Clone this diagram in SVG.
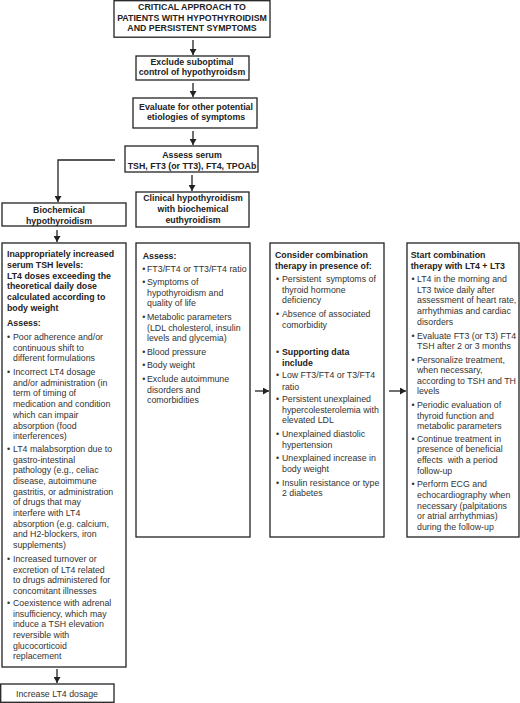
<svg xmlns="http://www.w3.org/2000/svg" width="520" height="703" viewBox="0 0 520 703">
<defs>
<marker id="ah" markerUnits="userSpaceOnUse" markerWidth="6" markerHeight="7" refX="6" refY="3.5" orient="auto">
<path d="M0,0 L6,3.5 L0,7 z" fill="#222"/>
</marker>
<style>
text{font-family:"Liberation Sans",Arial,Helvetica,sans-serif;font-size:8.8px;fill:#333}
.b{font-weight:bold;fill:#222}
.c{text-anchor:middle}
.box{fill:#fff;stroke:#222;stroke-width:1.3}
.ln{fill:none;stroke:#222;stroke-width:1.3}
.ar{marker-end:url(#ah)}
</style>
</defs>
<rect width="520" height="703" fill="#fff"/>

<g id="connectors">
<line class="ln ar" x1="193" y1="40" x2="193" y2="55"/>
<line class="ln ar" x1="193" y1="83" x2="193" y2="97"/>
<line class="ln ar" x1="193" y1="131" x2="193" y2="145"/>
<line class="ln ar" x1="192" y1="175" x2="192" y2="191"/>
<polyline class="ln ar" points="115,160 58,160 58,202"/>
<line class="ln ar" x1="57" y1="230" x2="57" y2="242"/>
<line class="ln ar" x1="57" y1="669" x2="57" y2="683"/>
<line class="ln ar" x1="255" y1="391" x2="269" y2="391"/>
<line class="ln ar" x1="389" y1="391" x2="406" y2="391"/>
</g>

<g id="n-critical">
<rect class="box" x="114" y="0.7" width="156" height="36.5"/>
<text class="b c" x="192" y="10.2">CRITICAL APPROACH TO</text>
<text class="b c" x="192" y="20.7">PATIENTS WITH HYPOTHYROIDISM</text>
<text class="b c" x="192" y="31.2">AND PERSISTENT SYMPTOMS</text>
</g>

<g id="n-exclude">
<rect class="box" x="136" y="56" width="113" height="24"/>
<text class="b c" x="192" y="65">Exclude suboptimal</text>
<text class="b c" x="192" y="75.3">control of hypothyroidsm</text>
</g>

<g id="n-evaluate">
<rect class="box" x="133" y="98" width="124" height="30"/>
<text class="b c" x="196" y="110">Evaluate for other potential</text>
<text class="b c" x="196" y="120.3">etiologies of symptoms</text>
</g>

<g id="n-assess">
<rect class="box" x="125" y="146" width="133" height="26"/>
<text class="b c" x="192" y="158">Assess serum</text>
<text class="b c" x="192" y="169">TSH, FT3 (or TT3), FT4, TPOAb</text>
</g>

<g id="n-biochemical">
<rect class="box" x="2" y="203" width="124" height="23"/>
<text class="b c" x="59" y="213">Biochemical</text>
<text class="b c" x="59" y="224">hypothyroidism</text>
</g>

<g id="n-clinical">
<rect class="box" x="136" y="192" width="113" height="35"/>
<text class="b c" x="193" y="201">Clinical hypothyroidism</text>
<text class="b c" x="193" y="212">with biochemical</text>
<text class="b c" x="193" y="223">euthyroidism</text>
</g>

<g id="n-tsh">
<rect class="box" x="2" y="243" width="124" height="424"/>
<text class="b" x="7" y="257.3">Inappropriately increased</text>
<text class="b" x="7" y="268">serum TSH levels:</text>
<text class="b" x="7" y="278.7">LT4 doses exceeding the</text>
<text class="b" x="7" y="289.4">theoretical daily dose</text>
<text class="b" x="7" y="300">calculated according to</text>
<text class="b" x="7" y="310.7">body weight</text>
<text class="b" x="7" y="325.7">Assess:</text>
<text x="7" y="340">•</text><text x="13" y="340">Poor adherence and/or</text>
<text x="13" y="350.7">continuous shift to</text>
<text x="13" y="361.3">different formulations</text>
<text x="7" y="375">•</text><text x="13" y="375">Incorrect LT4 dosage</text>
<text x="13" y="385.7">and/or administration (in</text>
<text x="13" y="396.4">term of timing of</text>
<text x="13" y="407.1">medication and condition</text>
<text x="13" y="417.8">which can impair</text>
<text x="13" y="428.5">absorption (food</text>
<text x="13" y="439.2">interferences)</text>
<text x="7" y="452">•</text><text x="13" y="452">LT4 malabsorption due to</text>
<text x="13" y="462.7">gastro-intestinal</text>
<text x="13" y="473.4">pathology (e.g., celiac</text>
<text x="13" y="484">disease, autoimmune</text>
<text x="13" y="494.7">gastritis, or administration</text>
<text x="13" y="505.4">of drugs that may</text>
<text x="13" y="516">interfere with LT4</text>
<text x="13" y="526.7">absorption (e.g. calcium,</text>
<text x="13" y="537.3">and H2-blockers, iron</text>
<text x="13" y="548">supplements)</text>
<text x="7" y="562">•</text><text x="13" y="562">Increased turnover or</text>
<text x="13" y="572.7">excretion of LT4 related</text>
<text x="13" y="583.3">to drugs administered for</text>
<text x="13" y="594">concomitant illnesses</text>
<text x="7" y="606">•</text><text x="13" y="606">Coexistence with adrenal</text>
<text x="13" y="616.7">insufficiency, which may</text>
<text x="13" y="627.3">induce a TSH elevation</text>
<text x="13" y="638">reversible with</text>
<text x="13" y="648.7">glucocorticoid</text>
<text x="13" y="659.3">replacement</text>
</g>

<g id="n-increase">
<rect class="box" x="0.7" y="684" width="113.3" height="18.3"/>
<text class="c" x="57" y="697">Increase LT4 dosage</text>
</g>

<g id="n-clinical-assess">
<rect class="box" x="136" y="243" width="114" height="294"/>
<text class="b" x="142.7" y="259">Assess:</text>
<text x="142.3" y="272">•</text><text x="147" y="272">FT3/FT4 or TT3/FT4 ratio</text>
<text x="142.3" y="285">•</text><text x="147" y="285">Symptoms of</text>
<text x="147" y="295.6">hypothyroidism and</text>
<text x="147" y="306.2">quality of life</text>
<text x="142.3" y="320">•</text><text x="147" y="320">Metabolic parameters</text>
<text x="147" y="330.6">(LDL cholesterol, insulin</text>
<text x="147" y="341.2">levels and glycemia)</text>
<text x="142.3" y="355">•</text><text x="147" y="355">Blood pressure</text>
<text x="142.3" y="367.5">•</text><text x="147" y="367.5">Body weight</text>
<text x="142.3" y="382">•</text><text x="147" y="382">Exclude autoimmune</text>
<text x="147" y="392.6">disorders and</text>
<text x="147" y="403.2">comorbidities</text>
</g>

<g id="n-consider">
<rect class="box" x="270" y="243" width="114" height="294"/>
<text class="b" x="275" y="258">Consider combination</text>
<text class="b" x="275" y="269">therapy in presence of:</text>
<text x="276" y="282.3">•</text><text x="282" y="282.3" xml:space="preserve">Persistent  symptoms of</text>
<text x="282" y="293">thyroid hormone</text>
<text x="282" y="303.3">deficiency</text>
<text x="276" y="317.3">•</text><text x="282" y="317.3">Absence of associated</text>
<text x="282" y="327.7">comorbidity</text>
<text x="276" y="355.3">•</text><text class="b" x="282" y="355.3">Supporting data</text>
<text class="b" x="282" y="366">include</text>
<text x="276" y="378.3">•</text><text x="282" y="378.3">Low FT3/FT4 or T3/FT4</text>
<text x="282" y="389.7">ratio</text>
<text x="276" y="402.3">•</text><text x="282" y="402.3">Persistent unexplained</text>
<text x="282" y="413">hypercolesterolemia with</text>
<text x="282" y="423.3">elevated LDL</text>
<text x="276" y="437.3">•</text><text x="282" y="437.3">Unexplained diastolic</text>
<text x="282" y="448">hypertension</text>
<text x="276" y="461.3">•</text><text x="282" y="461.3">Unexplained increase in</text>
<text x="282" y="472.3">body weight</text>
<text x="276" y="485.7">•</text><text x="282" y="485.7">Insulin resistance or type</text>
<text x="282" y="496.3">2 diabetes</text>
</g>

<g id="n-start">
<rect class="box" x="407" y="243" width="112" height="294"/>
<text class="b" x="410.7" y="258">Start combination</text>
<text class="b" x="410.7" y="269.3">therapy with LT4 + LT3</text>
<text x="411.5" y="282.3">•</text><text x="417" y="282.3">LT4 in the morning and</text>
<text x="417" y="293">LT3 twice daily after</text>
<text x="417" y="303.3">assessment of heart rate,</text>
<text x="417" y="314">arrhythmias and cardiac</text>
<text x="417" y="324.7">disorders</text>
<text x="411.5" y="338.7">•</text><text x="417" y="338.7">Evaluate FT3 (or T3) FT4</text>
<text x="417" y="349">TSH after 2 or 3 months</text>
<text x="411.5" y="363">•</text><text x="417" y="363">Personalize treatment,</text>
<text x="417" y="373.3">when necessary,</text>
<text x="417" y="384">according to TSH and TH</text>
<text x="417" y="394.3">levels</text>
<text x="411.5" y="408">•</text><text x="417" y="408">Periodic evaluation of</text>
<text x="417" y="418.7">thyroid function and</text>
<text x="417" y="429.3">metabolic parameters</text>
<text x="411.5" y="441.5">•</text><text x="417" y="441.5">Continue treatment in</text>
<text x="417" y="452.2">presence of beneficial</text>
<text x="417" y="463" xml:space="preserve">effects  with a period</text>
<text x="417" y="473.7">follow-up</text>
<text x="411.5" y="487.3">•</text><text x="417" y="487.3">Perform ECG and</text>
<text x="417" y="498">echocardiography when</text>
<text x="417" y="508.7">necessary (palpitations</text>
<text x="417" y="519.3">or atrial arrhythmias)</text>
<text x="417" y="530">during the follow-up</text>
</g>
</svg>
